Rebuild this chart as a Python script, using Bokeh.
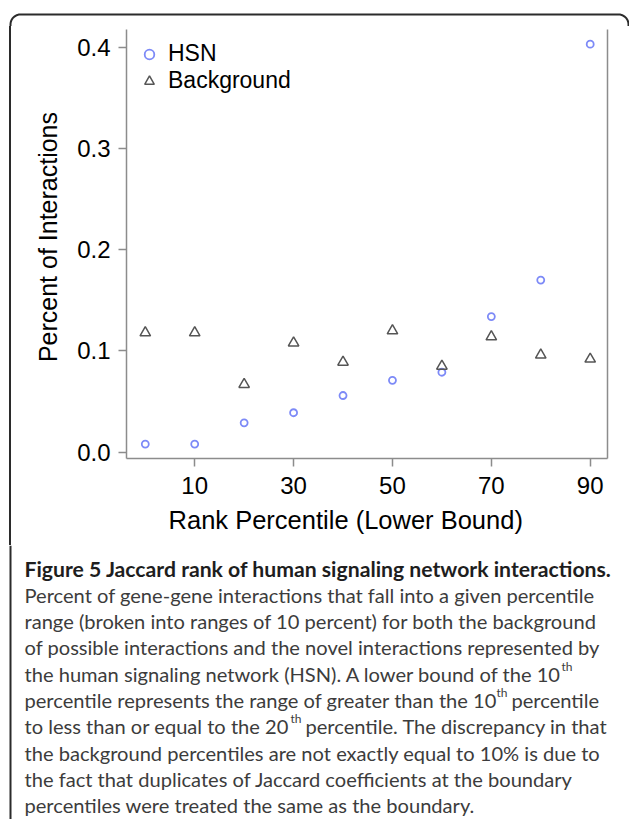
from bokeh.plotting import figure
from bokeh.layouts import column, row
from bokeh.models import (Range1d, FixedTicker, LinearAxis, Legend, LegendItem,
                          NumeralTickFormatter, Spacer)
from bokeh.core.properties import value
from bokeh.embed import file_html
from bokeh.resources import INLINE
import math

# ---------------- data ----------------
rank = [0, 10, 20, 30, 40, 50, 60, 70, 80, 90]
hsn = [0.008, 0.008, 0.029, 0.039, 0.056, 0.071, 0.079, 0.134, 0.170, 0.403]
background = [0.118, 0.118, 0.067, 0.108, 0.089, 0.120, 0.085, 0.114, 0.096, 0.092]
x_ticks = [10, 30, 50, 70, 90]
y_ticks = [0.0, 0.1, 0.2, 0.3, 0.4]
series_names = ["HSN", "Background"]
NB = "\u00a0"
x_title = "Rank Percentile (Lower Bound)" + NB * 6
y_title = NB * 2 + "Percent of Interactions"

caption_title = "Figure 5 Jaccard rank of human signaling network interactions."
caption_lines = [
    [("Percent of gene-gene interactions that fall into a given percentile", 24, False)],
    [("range (broken into ranges of 10 percent) for both the background", 24, False)],
    [("of possible interactions and the novel interactions represented by", 24, False)],
    [("the human signaling network (HSN). A lower bound of the 10", 24, False), ("th", 561, True)],
    [("percentile represents the range of greater than the 10", 24, False), ("th", 496, True),
     ("percentile", 511, False)],
    [("to less than or equal to the 20", 24, False), ("th", 290, True),
     ("percentile. The discrepancy in that", 305, False)],
    [("the background percentiles are not exactly equal to 10% is due to", 24, False)],
    [("the fact that duplicates of Jaccard coefficients at the boundary", 24, False)],
    [("percentiles were treated the same as the boundary.", 24, False)],
]

# ---------------- page geometry (page pixels) ----------------
W, H = 629, 819
TOP_H = 26            # strip with the top edge of the page frame
MID_Y1 = 545          # bottom of the chart row
LEFT_W = 20           # strip with the left edge of the page frame
FRAME_C = "#2b2b2b"


def blank(width, height, x0, x1, y_top, y_bot):
    f = figure(width=width, height=height, x_range=Range1d(x0, x1),
               y_range=Range1d(y_bot, y_top), x_axis_type=None, y_axis_type=None,
               output_backend="svg", toolbar_location=None, min_border=0)
    f.outline_line_color = None
    f.background_fill_color = "white"
    f.border_fill_color = "white"
    return f


# top strip: top edge with rounded corners
top = blank(W, TOP_H, 0, W, 0, TOP_H)
px, py = [10], [TOP_H]
for k in range(0, 13):
    a = math.pi + (math.pi / 2) * k / 12
    px.append(20 + 10 * math.cos(a)); py.append(24 + 10 * math.sin(a))
for k in range(0, 13):
    a = 1.5 * math.pi + (math.pi / 2) * k / 12
    px.append(618 + 10 * math.cos(a)); py.append(24 + 10 * math.sin(a))
px.append(628); py.append(TOP_H)
top.line(px, py, line_color=FRAME_C, line_width=2)

# left strip beside the chart (a plain spacer, so that it is not frame-aligned)
left = Spacer(width=LEFT_W, height=MID_Y1 - TOP_H,
              styles={"background": "linear-gradient(to right, #ffffff 0px, #ffffff 9px, "
                                    "#2b2b2b 9px, #2b2b2b 11px, #ffffff 11px, #ffffff 20px)"})

# ---------------- chart ----------------
CW = W - LEFT_W
CH = MID_Y1 - TOP_H
FL, FT, FR, FB = 126 - LEFT_W, 29 - TOP_H, 607 - LEFT_W, 458 - TOP_H

p = figure(width=CW, height=CH, x_range=Range1d(-3.8, 93.5), y_range=Range1d(-0.0062, 0.4175),
           output_backend="svg", toolbar_location=None,
           min_border_left=FL, min_border_right=CW - FR, min_border_top=FT,
           min_border_bottom=CH - FB)
p.outline_line_color = None
p.xgrid.visible = False
p.ygrid.visible = False
p.background_fill_color = "white"
p.border_fill_color = "white"

AX = "#8c8c8c"
for ax in (p.xaxis[0], p.yaxis[0]):
    ax.axis_line_color = AX
    ax.axis_line_width = 1.5
    ax.major_tick_line_color = AX
    ax.major_tick_line_width = 1.5
    ax.major_tick_out = 8
    ax.major_tick_in = 0
    ax.minor_tick_line_color = None
    ax.major_label_text_font = "Liberation Sans"
    ax.major_label_text_font_size = "24px"
    ax.major_label_text_color = "black"
    ax.axis_label_text_font = "Liberation Sans"
    ax.axis_label_text_font_style = "normal"
    ax.axis_label_text_color = "black"

p.xaxis[0].ticker = FixedTicker(ticks=x_ticks)
p.xaxis[0].axis_label = x_title
p.xaxis[0].axis_label_text_font_size = "25.5px"
p.xaxis[0].major_label_standoff = 10
p.xaxis[0].axis_label_standoff = 9
p.yaxis[0].ticker = FixedTicker(ticks=y_ticks)
p.yaxis[0].formatter = NumeralTickFormatter(format="0.0")
p.yaxis[0].axis_label = y_title
p.yaxis[0].major_label_standoff = 8
p.yaxis[0].axis_label_standoff = 12
p.yaxis[0].axis_label_text_font_size = "25px"

right = LinearAxis(ticker=FixedTicker(ticks=[]), axis_line_color=AX, axis_line_width=1.5,
                   major_tick_line_color=None, minor_tick_line_color=None,
                   major_label_text_color=None)
p.add_layout(right, "right")

r_hsn = p.scatter(rank, hsn, marker="circle", size=7, fill_color=None,
                  line_color="#7d8af7", line_width=1.8)
r_bg = p.scatter(rank, background, marker="triangle", size=10.5, fill_color=None,
                 line_color="#555555", line_width=1.5)

legend = Legend(items=[LegendItem(label=series_names[0], renderers=[r_hsn]),
                       LegendItem(label=series_names[1], renderers=[r_bg])],
                location="top_left", margin=11, padding=0, spacing=0,
                glyph_width=24, glyph_height=26, label_height=26, label_standoff=7,
                border_line_color=None, background_fill_alpha=0,
                label_text_font="Liberation Sans", label_text_font_size="23px",
                label_text_color="black")
p.add_layout(legend)

# ---------------- caption ----------------
cap = blank(W, H - MID_Y1, 0, W, MID_Y1, H)
cap.line([10, 10], [MID_Y1, H], line_color=FRAME_C, line_width=2)

BASE0, STEP = 568, 26.3
cap.text(x=[24], y=[BASE0], text=[caption_title], text_font=value("Lato"),
         text_font_style="bold", text_font_size=value("21.2px"), text_color="#1e1e1e",
         text_baseline="alphabetic", text_align="left")
nx, ny, nt, sx_, sy_, st = [], [], [], [], [], []
for i, pieces in enumerate(caption_lines):
    base = BASE0 + STEP * (i + 1)
    for txt, rx, sup in pieces:
        if sup:
            sx_.append(rx); sy_.append(base - 7.5); st.append(txt)
        else:
            nx.append(rx); ny.append(base); nt.append(txt)
cap.text(x=nx, y=ny, text=nt, text_font=value("Lato"), text_font_size=value("20.1px"),
         text_color="#3c3c3c", text_baseline="alphabetic", text_align="left")
cap.text(x=sx_, y=sy_, text=st, text_font=value("Lato"), text_font_size=value("12px"),
         text_color="#3c3c3c", text_baseline="alphabetic", text_align="left")

layout = column(top, row(left, p, spacing=0), cap, spacing=0)
open("out.html", "w").write(file_html(layout, INLINE))
